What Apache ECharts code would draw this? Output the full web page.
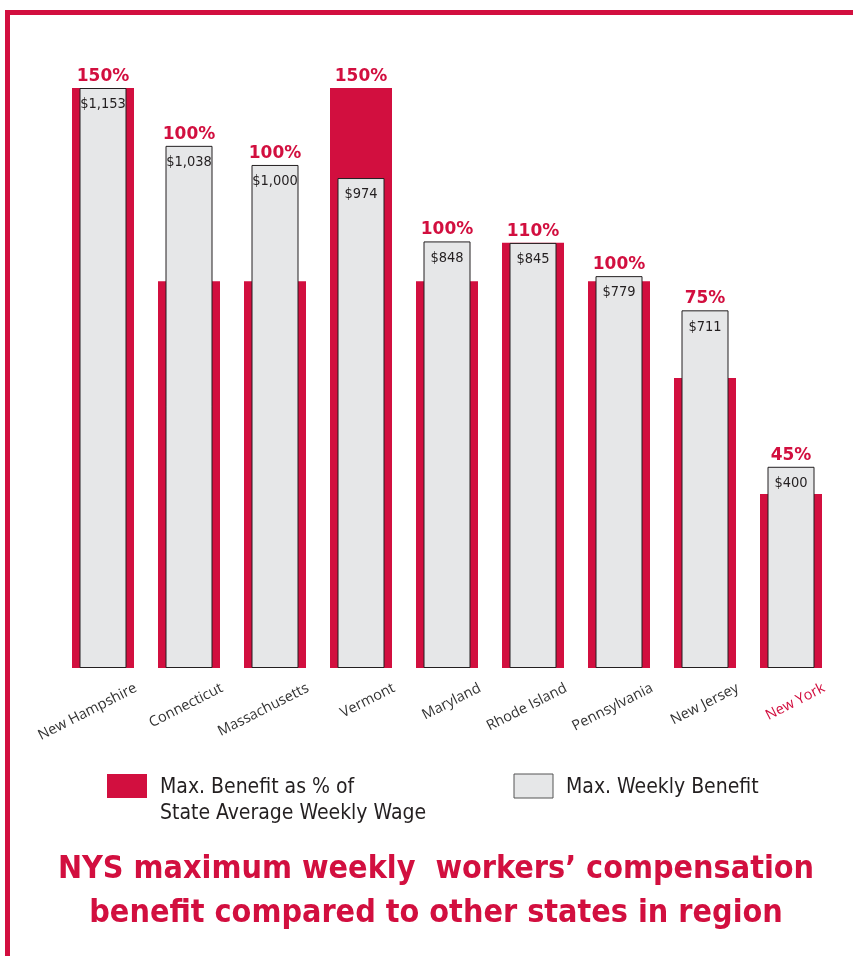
<!DOCTYPE html>
<html>
<head>
<meta charset="utf-8">
<title>NYS maximum weekly workers' compensation benefit</title>
<script src="https://cdn.jsdelivr.net/npm/echarts@6/dist/echarts.min.js"></script>
<style>
    html, body { margin: 0; padding: 0; background: #fff; }
    #chart { width: 853px; height: 956px; }
</style>
</head>
<body>
<div id="chart"></div>
<script>
// data
const states = ['New Hampshire', 'Connecticut', 'Massachusetts', 'Vermont', 'Maryland',
    'Rhode Island', 'Pennsylvania', 'New Jersey', 'New York']
const pctOfWage = [150, 100, 100, 150, 100, 110, 100, 75, 45]
const weeklyBenefit = [1153, 1038, 1000, 974, 848, 845, 779, 711, 400]
const pctMax = 150
const dollarMax = 1153

const RED = '#d20f3f'
const GREY = '#e6e7e8'
const INK = '#231f20'
const NARROW = "'DejaVu Sans Condensed', 'Liberation Sans Narrow', sans-serif"

// the % label sits above whichever bar is taller
const redTaller = pctOfWage.map((p, i) => p / pctMax > weeklyBenefit[i] / dollarMax)

const pctLabel = {
    show: true,
    position: 'top',
    distance: 3,
    color: RED,
    fontFamily: 'DejaVu Sans',
    fontWeight: 'bold',
    fontSize: 17
}

const chart = echarts.init(document.getElementById('chart'), null, { renderer: 'canvas' })

const option = {
    backgroundColor: '#fff',
    animation: false,
    title: {
        text: 'NYS maximum weekly  workers\u2019 compensation\nbenefit compared to other states in region',
        left: 431,
        top: 843,
        textAlign: 'center',
        textStyle: {
            color: RED,
            fontFamily: NARROW,
            fontWeight: 'bold',
            fontSize: 32,
            lineHeight: 44
        }
    },
    grid: { left: 60, right: 19, top: 88, bottom: 288 },
    xAxis: [
        {
            type: 'category',
            data: states.map(s => s === 'New York' ? { value: s, textStyle: { color: RED } } : s),
            axisLine: { show: false },
            axisTick: { show: false },
            axisLabel: {
                interval: 0,
                rotate: 27,
                margin: 36,
                padding: [0, -37, 0, 0],
                color: '#333',
                fontFamily: 'Open Sans',
                fontSize: 14.5
            }
        },
        { type: 'category', data: states, show: false }
    ],
    yAxis: [
        { type: 'value', min: 0, max: pctMax, show: false },
        { type: 'value', min: 0, max: dollarMax, show: false }
    ],
    series: [
        {
            name: 'Max. Benefit as % of State Average Weekly Wage',
            type: 'bar',
            xAxisIndex: 0,
            yAxisIndex: 0,
            barWidth: 62,
            itemStyle: { color: RED },
            data: pctOfWage.map((p, i) => ({
                value: p,
                label: Object.assign({}, pctLabel, { show: redTaller[i], formatter: p + '%' })
            }))
        },
        {
            name: 'Max. Weekly Benefit',
            type: 'bar',
            xAxisIndex: 1,
            yAxisIndex: 1,
            barWidth: 47,
            barGap: '-100%',
            itemStyle: { color: GREY, borderColor: INK, borderWidth: 1 },
            label: {
                show: true,
                position: 'insideTop',
                distance: 9,
                color: INK,
                fontFamily: NARROW,
                fontSize: 14.5,
                formatter: p => '$' + p.value.toLocaleString('en-US')
            },
            data: weeklyBenefit
        },
        {
            // invisible twin of the grey bars, only carries the % label
            name: 'pct-label',
            type: 'bar',
            xAxisIndex: 1,
            yAxisIndex: 1,
            barWidth: 47,
            barGap: '-100%',
            silent: true,
            itemStyle: { color: 'rgba(0,0,0,0)' },
            data: weeklyBenefit.map((d, i) => ({
                value: d,
                label: Object.assign({}, pctLabel, { show: !redTaller[i], formatter: pctOfWage[i] + '%' })
            }))
        }
    ],
    graphic: [
        // frame
        { type: 'rect', shape: { x: 5, y: 10, width: 848, height: 5 }, style: { fill: RED } },
        { type: 'rect', shape: { x: 5, y: 10, width: 5, height: 946 }, style: { fill: RED } },
        // legend
        { type: 'rect', shape: { x: 107, y: 774, width: 40, height: 24 }, style: { fill: RED } },
        {
            type: 'text', x: 160, y: 775,
            style: {
                text: 'Max. Benefit as % of\nState Average Weekly Wage',
                fill: INK, font: '21px ' + NARROW, lineHeight: 26
            }
        },
        {
            type: 'rect', shape: { x: 514, y: 774, width: 39, height: 24 },
            style: { fill: GREY, stroke: '#555', lineWidth: 1 }
        },
        {
            type: 'text', x: 566, y: 775,
            style: { text: 'Max. Weekly Benefit', fill: INK, font: '21px ' + NARROW, lineHeight: 26 }
        }
    ]
}

chart.setOption(option)
</script>
</body>
</html>
